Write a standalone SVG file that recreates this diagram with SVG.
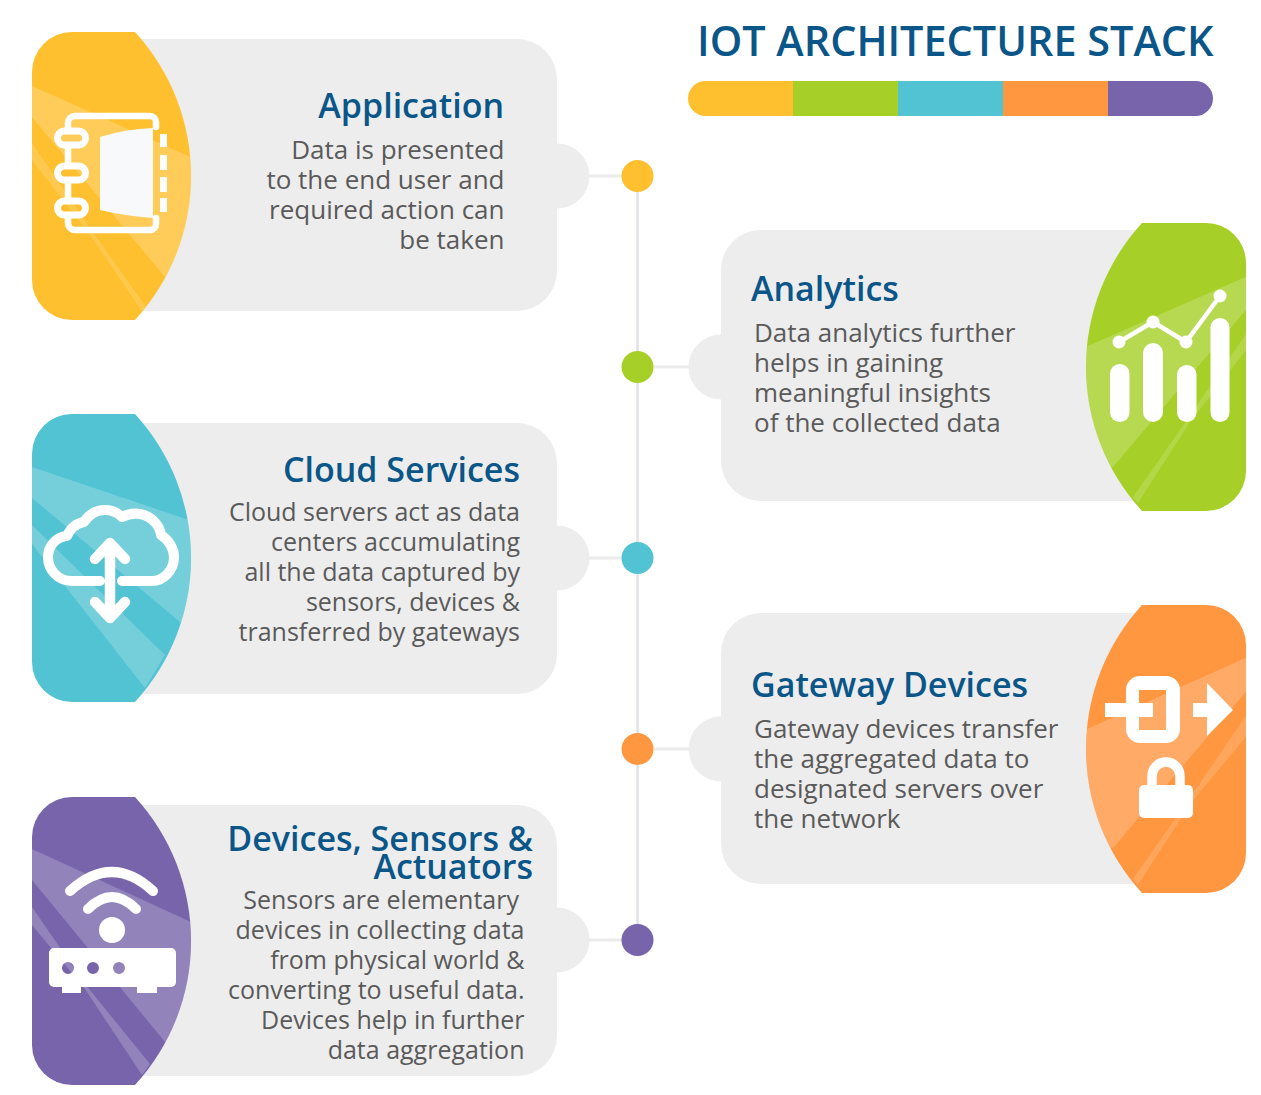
<svg xmlns="http://www.w3.org/2000/svg" width="1261" height="1095" viewBox="0 0 1261 1095">
<style>
text{font-family:"Open Sans","Liberation Sans",sans-serif}
.h{font-size:34px;font-weight:600;fill:#0a5688}
.b{font-size:26px;fill:#5a5a5a}
.c{font-size:25px}
.e{text-anchor:end}
.t{font-size:41.400px;font-weight:600;fill:#0a5688}
.p{fill:#ededed}
.band{fill:#fff;fill-opacity:.2}
.thin{fill:#fff;fill-opacity:.15}
.ln{stroke:#ebebeb;stroke-width:3;fill:none}
.w{fill:#fff}
.s{fill:none;stroke:#fff;stroke-linecap:round;stroke-linejoin:round}
</style>
<defs>
<path id="bl" d="M135 32H72a40 40 0 0 0-40 40V280a40 40 0 0 0 40 40H135A213 213 0 0 0 135 32Z"/>
<path id="br" d="M1142 223H1206a40 40 0 0 1 40 40V471a40 40 0 0 1-40 40H1142A213 213 0 0 1 1142 223Z"/>
<clipPath id="cl"><use href="#bl"/></clipPath>
<clipPath id="cr"><use href="#br"/></clipPath>
</defs>
<g id="connectors">
<path d="M637.500 176V940" stroke="#dfe2e8" stroke-width="2.500" fill="none"/>
<path class="ln" d="M589 176H622M654 367H689M589 558H622M654 749H689M589 940H622"/>
</g>
<g id="title">
<text class="t" x="697" y="56">IOT ARCHITECTURE STACK</text>
<path fill="#ffc030" d="M793 81H705.500a17.500 17.500 0 0 0 0 35H793Z"/>
<rect x="793" y="81" width="105" height="35" fill="#a6d027"/>
<rect x="898" y="81" width="105" height="35" fill="#52c3d3"/>
<rect x="1003" y="81" width="105" height="35" fill="#ff9741"/>
<path fill="#7764ab" d="M1108 81H1195.500a17.500 17.500 0 0 1 0 35H1108Z"/>
</g>
<g id="node-application">
<circle cx="637.500" cy="176" r="16" fill="#ffc030"/>
<path class="p" d="M100 39H517a40 40 0 0 1 40 40V143.500a32.500 32.500 0 0 1 0 65V271a40 40 0 0 1-40 40H100Z"/>
<use href="#bl" fill="#ffc030"/>
<g clip-path="url(#cl)">
<path class="band" d="M32 86L195 159V260L165 277L32 117Z"/>
<path class="thin" d="M32 143L90 228L146 307L142 311L88 232L32 160Z"/>
</g>
<path class="s" stroke-width="6.500" d="M156 127V122a6 6 0 0 0-6-6H75a7 7 0 0 0-7 7V128M68 148V163M68 183V198M68 218V223a7 7 0 0 0 7 7H150a6 6 0 0 0 6-6V218"/>
<g class="s" stroke-width="7"><rect x="57.500" y="131" width="28" height="14" rx="7"/><rect x="57.500" y="166" width="28" height="14" rx="7"/><rect x="57.500" y="201" width="28" height="14" rx="7"/></g>
<path fill="#f7f9fb" d="M100 137Q125 129 153 128V218Q125 216 100 210Z"/>
<path class="w" d="M160 134H167V147H160ZM160 155H167V170H160ZM160 177H167V192H160ZM160 198H167V212H160Z"/>
<text class="h e" x="504" y="118">Application</text>
<text class="b e" x="504.500" y="159">Data is presented</text>
<text class="b e" x="504.500" y="189">to the end user and</text>
<text class="b e" x="504.500" y="219">required action can</text>
<text class="b e" x="504.500" y="249">be taken</text>
</g>
<g id="node-analytics">
<circle cx="637.500" cy="367" r="16" fill="#a6d027"/>
<path class="p" d="M1160 230H761a40 40 0 0 0-40 40V334.500a32.500 32.500 0 0 0 0 65V461a40 40 0 0 0 40 40H1160Z"/>
<use href="#br" fill="#a6d027"/>
<g clip-path="url(#cr)">
<path class="band" d="M1250 275L1083 348V460L1113 467L1250 305Z"/>
<path class="thin" d="M1250 328L1187 420L1133 497L1138 503L1190 422L1250 345Z"/>
</g>
<g class="w"><rect x="1110" y="364" width="19.500" height="58" rx="9.750"/><rect x="1143" y="343" width="20" height="79" rx="10"/><rect x="1177" y="365" width="19.500" height="57" rx="9.750"/><rect x="1210.500" y="318" width="19" height="104" rx="9.500"/>
<circle cx="1119" cy="342" r="6.500"/><circle cx="1153" cy="322" r="6.500"/><circle cx="1186" cy="342" r="6.500"/><circle cx="1220" cy="296" r="6.500"/></g>
<path class="s" stroke-width="4.500" d="M1119 342L1153 322L1186 342L1220 296"/>
<text class="h" x="751" y="301">Analytics</text>
<text class="b" x="754" y="342">Data analytics further</text>
<text class="b" x="754" y="372">helps in gaining</text>
<text class="b" x="754" y="402">meaningful insights</text>
<text class="b" x="754" y="432">of the collected data</text>
</g>
<g id="node-cloud">
<circle cx="637.500" cy="558" r="16" fill="#52c3d3"/>
<path class="p" d="M100 423H517a40 40 0 0 1 40 40V525.500a32.500 32.500 0 0 1 0 65V654a40 40 0 0 1-40 40H100Z"/>
<use href="#bl" y="382" fill="#52c3d3"/>
<g transform="translate(0 382)" clip-path="url(#cl)">
<path class="band" d="M32 85L195 140V240L180 240L32 116Z"/>
<path class="band" d="M32 143L165 273L145 306L32 162Z"/>
</g>
<path class="s" stroke-width="10" stroke-linecap="butt" d="M100 581H72C58 581 48 570 48 557C48 546 56 537 67 536C71 527 78 523 84 522C90 513 98 510 105 510C112 510 118 513 122 517C128 514 134 513 140 514C152 516 160 526 161 535C169 540 174 549 174 557C174 571 163 581 152 581H122"/>
<path class="s" stroke-width="10.500" d="M110 543V618M95 559L110 543L125 559M95 602L110 618L125 602"/>
<text class="h e" x="520" y="482">Cloud Services</text>
<text class="b c e" x="520" y="521">Cloud servers act as data</text>
<text class="b c e" x="520" y="551">centers accumulating</text>
<text class="b c e" x="520" y="581">all the data captured by</text>
<text class="b c e" x="520" y="611">sensors, devices &amp;</text>
<text class="b c e" x="520" y="641">transferred by gateways</text>
</g>
<g id="node-gateway">
<circle cx="637.500" cy="749" r="16" fill="#ff9741"/>
<path class="p" d="M1160 613H761a40 40 0 0 0-40 40V716.500a32.500 32.500 0 0 0 0 65V844a40 40 0 0 0 40 40H1160Z"/>
<use href="#br" y="382" fill="#ff9741"/>
<g transform="translate(0 382)" clip-path="url(#cr)">
<path class="band" d="M1250 274L1083 349V460L1113 466L1250 305Z"/>
<path class="thin" d="M1250 328L1187 420L1133 497L1138 503L1190 422L1250 350Z"/>
</g>
<path class="w" fill-rule="evenodd" d="M1140 676H1166a14 14 0 0 1 14 14V729a14 14 0 0 1-14 14H1140a14 14 0 0 1-14-14V717H1105V703H1126V690a14 14 0 0 1 14-14ZM1139 690V703H1153V717H1139V730H1166V690Z"/>
<path class="w" d="M1193 703H1207V683L1233 710L1207 736V717H1193Z"/>
<path class="w" d="M1144 785H1188a5 5 0 0 1 5 5V813a5 5 0 0 1-5 5H1144a5 5 0 0 1-5-5V790a5 5 0 0 1 5-5Z"/>
<path class="s" stroke-width="9.500" stroke-linecap="butt" d="M1152 787V776a14 14 0 0 1 28 0V787"/>
<text class="h" x="751" y="697">Gateway Devices</text>
<text class="b" x="754" y="738">Gateway devices transfer</text>
<text class="b" x="754" y="768">the aggregated data to</text>
<text class="b" x="754" y="798">designated servers over</text>
<text class="b" x="754" y="828">the network</text>
</g>
<g id="node-devices">
<circle cx="637.500" cy="940" r="16" fill="#7764ab"/>
<path class="p" d="M100 805H517a40 40 0 0 1 40 40V907.500a32.500 32.500 0 0 1 0 65V1036a40 40 0 0 1-40 40H100Z"/>
<use href="#bl" y="765" fill="#7764ab"/>
<g transform="translate(0 765)" clip-path="url(#cl)">
<path class="band" d="M32 84L195 159V260L165 277L32 115Z"/>
<path class="band" d="M32 142L85 219L150 299L142 310L85 224L32 160Z"/>
</g>
<path class="s" stroke-width="10" d="M70 891Q112 853 153 891M88 909Q112 885 136 909"/>
<circle class="w" cx="112" cy="930" r="13"/>
<path class="w" fill-rule="evenodd" d="M54 948H171a5 5 0 0 1 5 5V982a5 5 0 0 1-5 5H157V993H137V987H81V993H62V987H54a5 5 0 0 1-5-5V953a5 5 0 0 1 5-5ZM62 968a6 6 0 0 0 12 0a6 6 0 0 0-12 0ZM87 968a6 6 0 0 0 12 0a6 6 0 0 0-12 0ZM113 968a6 6 0 0 0 12 0a6 6 0 0 0-12 0Z"/>
<text class="h e" x="533" y="851">Devices, Sensors &amp;</text>
<text class="h e" x="533" y="879">Actuators</text>
<text class="b c e" x="519" y="909">Sensors are elementary</text>
<text class="b c e" x="524.500" y="939">devices in collecting data</text>
<text class="b c e" x="524.500" y="969">from physical world &amp;</text>
<text class="b c e" x="524.500" y="999">converting to useful data.</text>
<text class="b c e" x="524.500" y="1029">Devices help in further</text>
<text class="b c e" x="524.500" y="1059">data aggregation</text>
</g>
</svg>
